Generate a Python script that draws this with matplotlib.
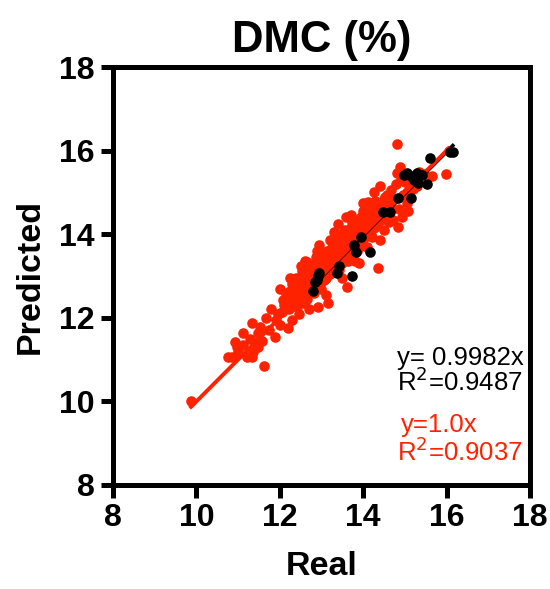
import numpy as np
import matplotlib
matplotlib.use('Agg')
import matplotlib.pyplot as plt

plt.rcParams['font.family'] = ['Liberation Sans', 'DejaVu Sans']

RED = '#ff2200'

# red set (real vs predicted)
red_real = [
    9.87, 10.76, 10.85, 10.97, 11.12, 11.12, 11.33, 11.33, 11.43, 11.48,
    11.53, 11.67, 11.62, 11.88, 11.96, 12.00, 12.20, 12.08, 12.17, 11.48,
    11.36, 11.00, 11.21, 10.93, 11.28, 11.58, 11.75, 11.80, 11.92, 12.05,
    12.10, 12.15, 12.20, 12.22, 12.25, 12.28, 12.30, 12.32, 12.35, 12.36,
    12.40, 12.42, 12.44, 12.45, 12.48, 12.50, 12.52, 12.53, 12.55, 12.56,
    12.58, 12.60, 12.62, 12.63, 12.65, 12.66, 12.68, 12.70, 12.72, 12.74,
    12.75, 12.78, 12.80, 12.82, 12.84, 12.85, 12.88, 12.90, 12.92, 12.95,
    12.96, 12.98, 13.00, 13.00, 13.02, 13.04, 13.05, 13.06, 13.08, 13.10,
    13.12, 13.14, 13.15, 13.16, 13.18, 13.20, 13.20, 13.22, 13.24, 13.25,
    13.27, 13.28, 13.30, 13.32, 13.34, 13.35, 13.36, 13.38, 13.40, 13.42,
    13.44, 13.45, 13.47, 13.48, 13.50, 13.52, 13.53, 13.55, 13.56, 13.58,
    13.60, 13.61, 13.62, 13.64, 13.65, 13.67, 13.68, 13.70, 13.72, 13.73,
    13.75, 13.76, 13.78, 13.80, 13.81, 13.83, 13.85, 13.86, 13.88, 13.90,
    13.92, 13.94, 13.95, 13.97, 13.98, 14.00, 14.02, 14.04, 14.05, 14.07,
    14.09, 14.11, 14.11, 14.14, 14.16, 14.18, 14.20, 14.21, 14.22, 14.24,
    14.26, 14.28, 14.30, 14.33, 14.33, 14.36, 14.38, 14.40, 14.40, 14.43,
    14.45, 14.47, 14.50, 14.52, 14.55, 14.57, 14.60, 14.62, 14.64, 14.67,
    14.71, 14.75, 14.78, 14.81, 14.81, 14.83, 14.86, 14.88, 14.91, 14.93,
    14.96, 15.00, 15.05, 15.05, 15.07, 15.12, 15.19, 15.25, 15.30, 15.35,
    15.65, 15.99, 16.05, 15.45,
    12.38, 12.46, 12.57, 12.64, 12.77, 12.86, 12.93, 13.03, 13.13, 13.19,
    13.26, 13.31, 13.39, 13.46, 13.54, 13.63, 13.69, 13.77, 13.84, 13.91,
    13.99, 14.06, 14.13, 14.19, 14.27, 14.35, 14.42, 14.49, 14.56, 14.63,
    12.30, 12.50, 12.70, 12.90, 13.10, 13.30, 13.50, 13.70, 13.90, 14.10,
    12.25, 12.60, 12.95, 13.40, 13.60, 14.00, 14.25, 12.00, 12.45, 13.80,
]
red_pred = [
    10.01, 11.06, 11.06, 11.30, 11.35, 11.64, 11.88, 11.06, 11.40, 11.64,
    11.78, 12.00, 10.85, 11.54, 12.09, 11.83, 11.76, 12.43, 12.60, 11.30,
    11.18, 11.18, 11.06, 11.42, 11.50, 11.45, 11.70, 12.20, 11.95, 12.15,
    12.30, 12.55, 12.40, 12.20, 12.65, 12.45, 12.80, 12.35, 12.55, 12.83,
    12.70, 12.25, 12.66, 12.95, 12.50, 12.80, 12.40, 13.12, 12.65, 13.10,
    12.90, 12.55, 12.75, 13.00, 13.33, 12.45, 12.85, 13.05, 12.65, 12.95,
    13.20, 12.80, 13.10, 12.60, 12.95, 13.30, 12.75, 13.15, 12.26, 13.00,
    13.40, 12.85, 13.20, 12.70, 13.55, 13.05, 12.90, 13.30, 13.45, 13.10,
    12.95, 13.60, 13.25, 12.36, 13.40, 13.86, 13.05, 13.50, 13.20, 13.70,
    13.86, 13.35, 13.10, 13.55, 13.75, 13.25, 13.45, 13.95, 13.60, 13.15,
    13.80, 13.40, 14.00, 13.65, 13.30, 13.90, 13.55, 13.75, 14.10, 13.45,
    13.85, 12.74, 13.60, 14.05, 13.70, 13.95, 13.50, 14.15, 13.80, 14.27,
    13.65, 13.93, 14.20, 13.75, 14.22, 13.95, 14.35, 13.60, 14.05, 14.25,
    14.10, 13.85, 14.40, 14.00, 14.30, 14.15, 13.90, 14.45, 14.20, 14.05,
    14.34, 14.77, 14.50, 14.25, 14.60, 14.10, 14.40, 13.93, 14.55, 14.65,
    14.35, 14.80, 14.50, 14.46, 14.22, 13.19, 14.70, 13.86, 15.15, 14.60,
    14.75, 14.58, 14.10, 14.90, 14.45, 14.94, 14.65, 14.30, 14.70, 15.05,
    14.34, 14.85, 15.20, 16.16, 15.46, 14.17, 14.60, 15.61, 15.30, 14.41,
    14.95, 15.25, 15.01, 14.75, 14.55, 15.10, 15.08, 15.35, 15.15, 15.50,
    15.39, 15.44, 16.00, 15.45,
    12.95, 12.60, 12.35, 12.85, 13.00, 13.45, 12.85, 13.35, 13.30, 13.55,
    13.20, 13.70, 13.30, 13.60, 13.80, 13.35, 13.90, 14.05, 13.80, 13.70,
    14.55, 14.30, 14.05, 14.35, 14.15, 14.60, 14.35, 14.85, 14.55, 14.45,
    11.95, 13.25, 12.20, 13.60, 12.55, 14.05, 12.95, 14.45, 13.30, 13.70,
    12.95, 13.35, 13.75, 14.25, 14.40, 14.75, 15.00, 12.70, 12.10, 13.35,
]

# black set
black_real = [
    16.08, 16.15, 15.60, 15.05, 14.98, 15.29, 15.41, 15.22, 15.31, 15.53,
    14.83, 15.15, 14.47, 14.64, 13.95, 13.78, 13.83, 14.16, 13.42, 13.37,
    13.73, 12.94, 12.89, 12.84, 12.80, 15.15, 12.92,
]
black_pred = [
    15.97, 15.97, 15.82, 15.46, 15.42, 15.46, 15.42, 15.30, 15.22, 15.20,
    14.87, 14.87, 14.53, 14.53, 13.93, 13.74, 13.57, 13.57, 13.24, 13.07,
    13.00, 13.07, 12.90, 12.86, 12.64, 15.40, 13.00,
]

red_slope = 1.0
black_slope = 0.9982
ticks = [8, 10, 12, 14, 16, 18]

fig = plt.figure(figsize=(5.5, 5.89), dpi=100)
ax = fig.add_axes([0.2055, 0.1766, 0.758, 0.7096])

ax.scatter(red_real, red_pred, s=58, color=RED, linewidths=0, zorder=2)

xb = np.array([min(black_real), max(black_real)])
ax.plot(xb, black_slope * xb, color='black', lw=2.6, zorder=3)
xr = np.array([min(red_real), max(red_real)])
ax.plot(xr, red_slope * xr, color=RED, lw=2.8, zorder=4)

ax.scatter(black_real, black_pred, s=58, color='black', linewidths=0, zorder=5)

ax.set_xlim(8, 18)
ax.set_ylim(8, 18)
ax.set_xticks(ticks)
ax.set_yticks(ticks)

for sp in ax.spines.values():
    sp.set_linewidth(3.6)
ax.tick_params(direction='out', length=9, width=3.6, labelsize=23, pad=4)
for lab in ax.get_xticklabels() + ax.get_yticklabels():
    lab.set_fontweight('bold')

ax.set_title('DMC (%)', fontsize=31.5, fontweight='bold', pad=11)
ax.set_xlabel('Real', fontsize=24.5, fontweight='bold', labelpad=13)
ax.set_ylabel('Predicted', fontsize=24.5, fontweight='bold', labelpad=10)

ax.text(14.81, 11.04, 'y= 0.9982x', fontsize=18.5, color='black', va='center')
ax.text(14.81, 10.46, 'R$^2$=0.9487', fontsize=18.5, color='black', va='center')
ax.text(14.9, 9.44, 'y=1.0x', fontsize=18.5, color=RED, va='center')
ax.text(14.81, 8.79, 'R$^2$=0.9037', fontsize=18.5, color=RED, va='center')

fig.savefig('out.png', dpi=100)
